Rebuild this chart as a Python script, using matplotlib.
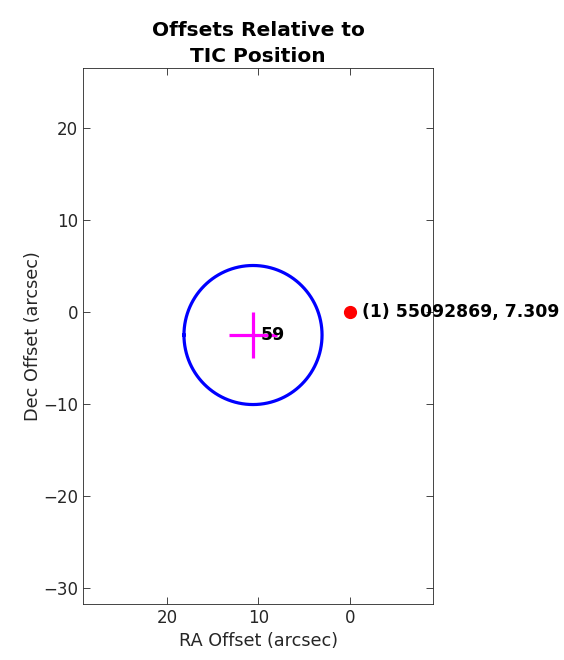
import numpy as np
import matplotlib.pyplot as plt

plt.rcParams['font.family'] = ['DejaVu Sans']

#   Offsets in arcsec (RA, Dec)
tic_offset = [0.0, 0.0]
tic_label = "(1) 55092869, 7.309"

centroid = [10.6, -2.5]
centroid_err = [2.6, 2.5]
centroid_label = "59"
circle_radius = 7.55

xticks = [20, 10, 0]
yticks = [20, 10, 0, -10, -20, -30]

fig = plt.figure(figsize=(5.64, 6.6), dpi=100)
ax = fig.add_axes([0.147, 0.085, 0.621, 0.812])

#   Circle around the centroid
theta = np.linspace(0, 2 * np.pi, 361)
ax.plot(centroid[0] + circle_radius * np.cos(theta),
        centroid[1] + circle_radius * np.sin(theta),
        color='blue', lw=2.3, solid_joinstyle='round')

#   Centroid cross (error bars)
ax.errorbar(centroid[0], centroid[1], xerr=centroid_err[0], yerr=centroid_err[1],
            fmt='none', ecolor='magenta', elinewidth=2.3, capsize=0)
ax.text(centroid[0] - 0.8, centroid[1], centroid_label, fontsize=12.5,
        fontweight='bold', va='center', ha='left')

#   TIC position
ax.plot(tic_offset[0], tic_offset[1], 'o', color='red', ms=8.5, mec='red')
ax.text(tic_offset[0] - 1.3, tic_offset[1], tic_label, fontsize=12.4,
        fontweight='bold', va='center', ha='left', clip_on=False)

ax.set_xlim(29.2, -9.1)
ax.set_ylim(-31.7, 26.5)
ax.set_xticks(xticks)
ax.set_yticks(yticks)
ax.tick_params(direction='in', top=True, right=True, labelsize=12,
               labelcolor='#262626', length=5, color='#262626', width=0.6)
for s in ax.spines.values():
    s.set_color('#262626')
    s.set_linewidth(0.6)

ax.set_xlabel('RA Offset (arcsec)', fontsize=12.7, color='#262626')
ax.set_ylabel('Dec Offset (arcsec)', fontsize=12.7, color='#262626', labelpad=1)
ax.set_title('Offsets Relative to\nTIC Position', fontsize=14.5, fontweight='bold',
             linespacing=1.5, pad=4)

fig.savefig('out.png', dpi=100)
